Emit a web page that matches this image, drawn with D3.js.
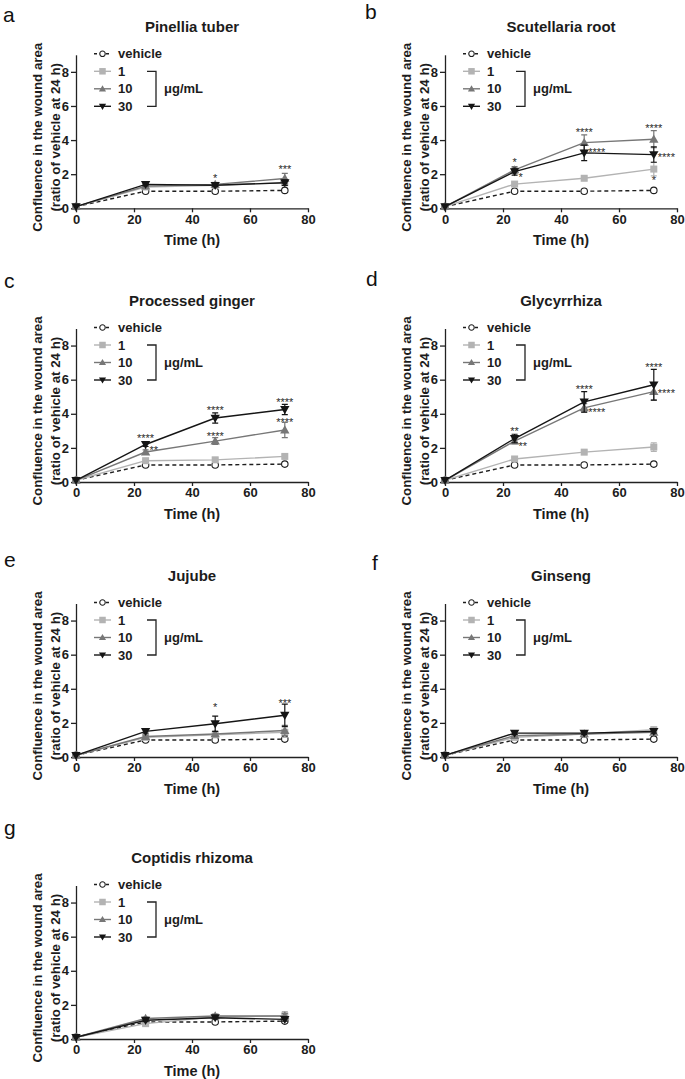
<!DOCTYPE html>
<html><head><meta charset="utf-8">
<script src="https://cdn.jsdelivr.net/npm/d3@7"></script>
<style>body{margin:0;background:#fff}svg{display:block}</style>
</head><body>
<script>
// ---------------- DATA ----------------
const times = [0, 24, 48, 72];
const titles = ["Pinellia tuber", "Scutellaria root", "Processed ginger", "Glycyrrhiza", "Jujube", "Ginseng", "Coptidis rhizoma"];
const letters = ["a", "b", "c", "d", "e", "f", "g"];
const xTicks = [0, 20, 40, 60, 80];
const yTicks = [0, 2, 4, 6, 8];
const seriesNames = ["vehicle", "1", "10", "30"];
const unitLabel = "μg/mL";
const yLabel1 = "Confluence in the wound area";
const yLabel2 = "(ratio of vehicle at 24 h)";
const xLabel = "Time (h)";

const vehicle = [
  [0.1, 1.0, 1.0, 1.05],
  [0.1, 1.0, 1.0, 1.05],
  [0.1, 1.0, 1.0, 1.05],
  [0.1, 1.0, 1.0, 1.05],
  [0.1, 1.0, 1.0, 1.05],
  [0.1, 1.0, 1.0, 1.05],
  [0.1, 1.0, 1.0, 1.05]
];
const dose1 = [
  [0.1, 1.25, 1.35, 1.5],
  [0.1, 1.42, 1.76, 2.3],
  [0.1, 1.25, 1.3, 1.5],
  [0.1, 1.35, 1.75, 2.05],
  [0.1, 1.15, 1.3, 1.45],
  [0.1, 1.15, 1.35, 1.6],
  [0.1, 0.9, 1.3, 1.35]
];
const dose10 = [
  [0.1, 1.3, 1.4, 1.75],
  [0.1, 2.25, 3.85, 4.05],
  [0.1, 1.76, 2.4, 3.05],
  [0.1, 2.4, 4.35, 5.3],
  [0.1, 1.2, 1.35, 1.55],
  [0.1, 1.25, 1.35, 1.45],
  [0.1, 1.2, 1.35, 1.35]
];
const dose30 = [
  [0.1, 1.4, 1.35, 1.5],
  [0.1, 2.15, 3.25, 3.15],
  [0.1, 2.2, 3.75, 4.25],
  [0.1, 2.55, 4.7, 5.7],
  [0.1, 1.5, 1.95, 2.45],
  [0.1, 1.4, 1.4, 1.5],
  [0.1, 1.1, 1.25, 1.15]
];
const err1 = [
  [0.02, 0.08, 0.08, 0.15],
  [0.02, 0.12, 0.1, 0.4],
  [0.02, 0.08, 0.08, 0.1],
  [0.02, 0.1, 0.1, 0.25],
  [0.02, 0.08, 0.15, 0.3],
  [0.02, 0.08, 0.08, 0.15],
  [0.02, 0.1, 0.08, 0.25]
];
const err10 = [
  [0.02, 0.08, 0.1, 0.3],
  [0.02, 0.2, 0.45, 0.5],
  [0.02, 0.12, 0.2, 0.45],
  [0.02, 0.15, 0.25, 0.5],
  [0.02, 0.08, 0.15, 0.3],
  [0.02, 0.08, 0.08, 0.1],
  [0.02, 0.08, 0.1, 0.15]
];
const err30 = [
  [0.02, 0.08, 0.08, 0.15],
  [0.02, 0.2, 0.45, 0.45],
  [0.02, 0.12, 0.3, 0.3],
  [0.02, 0.25, 0.6, 0.9],
  [0.02, 0.1, 0.45, 0.65],
  [0.02, 0.08, 0.08, 0.1],
  [0.02, 0.08, 0.08, 0.1]
];
const vehicleErr = [0.02, 0.03, 0.03, 0.03];

// significance marks: panel, time, value at mark centre, text, side
const starPanel = [0, 0, 1, 1, 1, 1, 1, 1, 1, 2, 2, 2, 2, 2, 2, 3, 3, 3, 3, 3, 3, 4, 4];
const starTime  = [48, 72, 24, 24, 48, 48, 72, 72, 72, 24, 24, 48, 48, 72, 72, 24, 24, 48, 48, 72, 72, 48, 72];
const starValue = [1.91, 2.44, 2.88, 1.99, 4.63, 3.45, 4.88, 3.18, 1.79, 2.72, 2.03, 4.38, 2.86, 4.85, 3.68, 3.15, 2.23, 5.59, 4.26, 6.9, 5.36, 3.1, 3.31];
const starText  = ["*", "***", "*", "*", "****", "****", "****", "****", "*", "****", "**", "****", "****", "****", "****", "**", "**", "****", "****", "****", "****", "*", "***"];
const starSide  = ["above", "above", "above", "right", "above", "right", "above", "right", "above", "above", "right", "above", "above", "above", "above", "above", "right", "above", "right", "above", "right", "above", "above"];

// ---------------- LAYOUT ----------------
const colX = [76, 445];
const rowY0 = [208.3, 482, 757, 1039];
const letterPos = [[3, 22], [365, 19], [4, 288], [366, 286], [4, 567], [372, 570], [4, 835]];
const W = 232, H = 153.5;
const FONT = "'Liberation Sans', Arial, sans-serif";
const colors = {vehicle: "#1e1e1e", d1: "#b3b3b3", d10: "#777777", d30: "#151515"};
const textCol = "#1c1c1c";

const svg = d3.select("body").append("svg").attr("width", 685).attr("height", 1079)
  .style("font-family", FONT);

function marker(sel, type, size, color) {
  if (type === "circle") {
    sel.append("circle").attr("r", size / 2).attr("fill", "#fff").attr("stroke", color).attr("stroke-width", 1.1);
  } else if (type === "square") {
    sel.append("rect").attr("x", -size / 2).attr("y", -size / 2).attr("width", size).attr("height", size).attr("fill", color);
  } else if (type === "up") {
    const s = size;
    sel.append("path").attr("d", `M0,${-s * 0.55}L${s * 0.55},${s * 0.4}L${-s * 0.55},${s * 0.4}Z`).attr("fill", color);
  } else {
    const s = size;
    sel.append("path").attr("d", `M0,${s * 0.55}L${s * 0.55},${-s * 0.4}L${-s * 0.55},${-s * 0.4}Z`).attr("fill", color);
  }
}

titles.forEach((title, i) => {
  const x0 = colX[i % 2], y0 = rowY0[Math.floor(i / 2)];
  const top = y0 - H;
  const g = svg.append("g").attr("transform", `translate(${x0},${top})`);
  const x = d3.scaleLinear().domain([0, 80]).range([0, W]);
  const y = d3.scaleLinear().domain([0, 9]).range([H, 0]);

  // panel letter
  svg.append("text").attr("x", letterPos[i][0]).attr("y", letterPos[i][1])
    .attr("font-family", FONT).attr("font-size", 21)
    .attr("fill", "#111").text(letters[i]);

  // title
  g.append("text").attr("x", W / 2).attr("y", -22.5).attr("text-anchor", "middle")
    .attr("font-size", 15).attr("font-weight", "bold").attr("fill", textCol).text(title);

  // axes
  const xa = g.append("g").attr("transform", `translate(0,${H})`)
    .call(d3.axisBottom(x).tickValues(xTicks).tickSize(4).tickSizeOuter(0).tickPadding(2));
  const ya = g.append("g")
    .call(d3.axisLeft(y).tickValues(yTicks).tickSize(5).tickSizeOuter(0).tickPadding(2));
  [xa, ya].forEach(a => {
    a.select(".domain").attr("stroke", "#222").attr("stroke-width", 1.3);
    a.selectAll(".tick line").attr("stroke", "#222").attr("stroke-width", 1.3);
    a.selectAll(".tick text").attr("font-size", 13).attr("font-weight", "bold")
      .attr("fill", textCol).attr("font-family", FONT);
  });

  // axis labels
  g.append("text").attr("transform", `translate(-34,${H - 71}) rotate(-90)`)
    .attr("text-anchor", "middle").attr("font-size", 13.3).attr("font-weight", "bold")
    .attr("fill", textCol).text(yLabel1);
  g.append("text").attr("transform", `translate(-16.5,${H - 71}) rotate(-90)`)
    .attr("text-anchor", "middle").attr("font-size", 13.3).attr("font-weight", "bold")
    .attr("fill", textCol).text(yLabel2);
  g.append("text").attr("x", W / 2).attr("y", H + 37).attr("text-anchor", "middle")
    .attr("font-size", 14.5).attr("font-weight", "bold").attr("fill", textCol).text(xLabel);

  // series
  const series = [
    {vals: vehicle[i], errs: vehicleErr, color: colors.vehicle, type: "circle", size: 6.5, dash: "4,3"},
    {vals: dose1[i], errs: err1[i], color: colors.d1, type: "square", size: 7, dash: null},
    {vals: dose10[i], errs: err10[i], color: colors.d10, type: "up", size: 8.5, dash: null},
    {vals: dose30[i], errs: err30[i], color: colors.d30, type: "down", size: 8.5, dash: null}
  ];
  const line = d3.line().x((d, k) => x(times[k])).y(d => y(d));
  series.forEach(s => {
    g.append("path").attr("d", line(s.vals)).attr("fill", "none").attr("stroke", s.color)
      .attr("stroke-width", 1.4).attr("stroke-dasharray", s.dash);
    s.vals.forEach((v, k) => {
      const e = s.errs[k];
      if (e > 0.05) {
        const cx = x(times[k]);
        g.append("path").attr("d",
          `M${cx},${y(v - e)}V${y(v + e)}M${cx - 3},${y(v + e)}H${cx + 3}M${cx - 3},${y(v - e)}H${cx + 3}`)
          .attr("stroke", s.color).attr("stroke-width", 1.2).attr("fill", "none");
      }
      const mg = g.append("g").attr("transform", `translate(${x(times[k])},${y(v)})`);
      marker(mg, s.type, s.size, s.color);
    });
  });

  // significance stars
  starPanel.forEach((p, k) => {
    if (p !== i) return;
    const side = starSide[k];
    g.append("text")
      .attr("x", x(starTime[k]) + (side === "right" ? 4 : 0))
      .attr("y", y(starValue[k]) + 6.5)
      .attr("text-anchor", side === "right" ? "start" : "middle")
      .attr("font-size", 11).attr("fill", "#2a2a2a").text(starText[k]);
  });

  // legend
  const lx = 18, lrow = [3.5, 21, 38.5, 56];
  const legTypes = ["circle", "square", "up", "down"];
  const legCols = [colors.vehicle, colors.d1, colors.d10, colors.d30];
  seriesNames.forEach((name, k) => {
    const cy = lrow[k] - 4.5;
    g.append("line").attr("x1", lx).attr("x2", lx + 17).attr("y1", cy).attr("y2", cy)
      .attr("stroke", legCols[k]).attr("stroke-width", 1.4)
      .attr("stroke-dasharray", k === 0 ? "3,3" : null);
    const mg = g.append("g").attr("transform", `translate(${lx + 8.5},${cy})`);
    marker(mg, legTypes[k], k === 0 ? 5.5 : 6.5, legCols[k]);
    g.append("text").attr("x", lx + 24).attr("y", lrow[k]).attr("font-size", 13)
      .attr("font-weight", "bold").attr("fill", textCol).text(name);
  });
  const by1 = lrow[1] - 4.5, by2 = lrow[3] - 4.5;
  g.append("path").attr("d", `M71,${by1}H80V${by2}H71`).attr("fill", "none")
    .attr("stroke", "#222").attr("stroke-width", 1.3);
  g.append("text").attr("x", 88).attr("y", lrow[2]).attr("font-size", 13)
    .attr("font-weight", "bold").attr("fill", textCol).text(unitLabel);
});
</script>
</body></html>
